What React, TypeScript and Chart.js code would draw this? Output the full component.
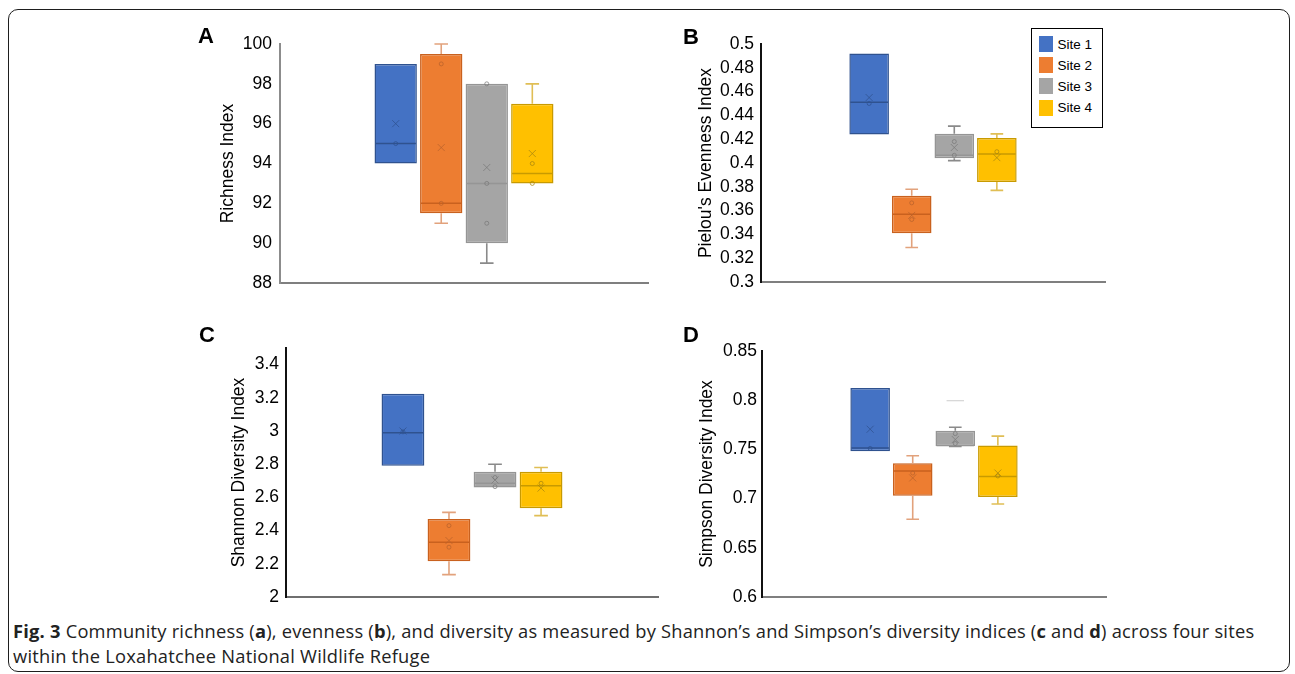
import React, { useEffect, useRef } from 'react';
import { Chart, registerables } from 'chart.js';

Chart.register(...registerables);

// ---------- shared series info ----------
const SITES = ['Site 1', 'Site 2', 'Site 3', 'Site 4'];
const FILL = ['#4472C4', '#ED7D31', '#A5A5A5', '#FFC000'];
const EDGE = ['#2F528F', '#C9611E', '#959595', '#C89A00'];
const WHISKER = ['#6C8CC8', '#E2A27C', '#8A8A8A', '#E0BE55'];
const MARK = ['#2F528F', '#B8612B', '#7A7A7A', '#A8850F'];

// ---------- Panel A: richness ----------
const richQ1 = [94, 91.5, 90, 93];
const richQ3 = [99, 99.5, 98, 97];
const richMedian = [95, 92, 93, 93.5];
const richMean = [96, 94.8, 93.8, 94.5];
const richMin = [94, 91, 89, 93];
const richMax = [99, 100, 98, 98];
const richPoints = [[95], [99, 92], [98, 93, 91], [94, 93]];
const richTicks = [88, 90, 92, 94, 96, 98, 100];

// ---------- Panel B: evenness ----------
const evenQ1 = [0.424, 0.341, 0.404, 0.384];
const evenQ3 = [0.492, 0.3725, 0.4245, 0.421];
const evenMedian = [0.451, 0.357, 0.4065, 0.4075];
const evenMean = [0.455, 0.356, 0.413, 0.4045];
const evenMin = [0.424, 0.329, 0.402, 0.377];
const evenMax = [0.492, 0.378, 0.431, 0.4245];
const evenPoints = [[0.45], [0.3665, 0.3525], [0.418, 0.4065], [0.4095]];
const evenTicks = [0.3, 0.32, 0.34, 0.36, 0.38, 0.4, 0.42, 0.44, 0.46, 0.48, 0.5];

// ---------- Panel C: Shannon ----------
const shanQ1 = [2.79, 2.215, 2.66, 2.535];
const shanQ3 = [3.225, 2.47, 2.755, 2.755];
const shanMedian = [2.99, 2.33, 2.685, 2.67];
const shanMean = [3.0, 2.34, 2.705, 2.656];
const shanMin = [2.79, 2.135, 2.66, 2.49];
const shanMax = [3.225, 2.51, 2.8, 2.78];
const shanPoints = [[2.995], [2.43, 2.3], [2.72, 2.665], [2.685]];
const shanTicks = [2, 2.2, 2.4, 2.6, 2.8, 3, 3.2, 3.4];

// ---------- Panel D: Simpson ----------
const simpQ1 = [0.748, 0.703, 0.7535, 0.7015];
const simpQ3 = [0.8125, 0.736, 0.769, 0.754];
const simpMedian = [0.7515, 0.728, 0.754, 0.7225];
const simpMean = [0.7705, 0.721, 0.76, 0.726];
const simpMin = [0.748, 0.679, 0.753, 0.6945];
const simpMax = [0.8125, 0.7435, 0.7725, 0.7635];
const simpPoints = [[0.751], [0.726], [0.766, 0.756], [0.723]];
const simpOutliers = [null, null, 0.7995, null];
const simpTicks = [0.6, 0.65, 0.7, 0.75, 0.8, 0.85];

const TICK_FONT = { family: '"Liberation Sans", Arial, sans-serif', size: 17.5 };

type Panel = {
  letter: string;
  title: string;
  q1: number[]; q3: number[]; median: number[]; mean: number[];
  min: number[]; max: number[]; points: number[][]; outliers?: (number | null)[];
  ticks: number[]; yMin: number; yMax: number;
  left: number; top: number; width: number; height: number;
  axisW: number; titlePad: number; tickPad: number;
  pad: { top: number; right: number; bottom: number };
  yAxisColor: string; xAxisColor: string;
  letterX: number; letterY: number;
};

const boxExtras = {
  id: 'boxExtras',
  afterDatasetsDraw(chart: any) {
    const ctx = chart.ctx;
    const y = chart.scales.y;
    chart.data.datasets.forEach((ds: any, i: number) => {
      const meta = chart.getDatasetMeta(i);
      const bar = meta.data[0];
      if (!bar) return;
      const cx = bar.x;
      const w = bar.width;
      const st = ds.stats;
      const q1 = ds.data[0][0];
      const q3 = ds.data[0][1];
      const cap = w * 0.32;
      ctx.save();
      // whiskers
      ctx.strokeStyle = WHISKER[i];
      ctx.lineWidth = 1.6;
      const whisk = (from: number, to: number) => {
        const a = y.getPixelForValue(from);
        const b = y.getPixelForValue(to);
        ctx.beginPath();
        ctx.moveTo(cx, a);
        ctx.lineTo(cx, b);
        ctx.moveTo(cx - cap / 2, b);
        ctx.lineTo(cx + cap / 2, b);
        ctx.stroke();
      };
      if (st.max > q3) whisk(q3, st.max);
      if (st.min < q1) whisk(q1, st.min);
      // median
      ctx.strokeStyle = EDGE[i];
      ctx.lineWidth = 1.5;
      const my = y.getPixelForValue(st.median);
      ctx.beginPath();
      ctx.moveTo(cx - w / 2 + 1, my);
      ctx.lineTo(cx + w / 2 - 1, my);
      ctx.stroke();
      // outliers (faint marks)
      if (st.outlier != null) {
        const oy = y.getPixelForValue(st.outlier);
        ctx.strokeStyle = '#D4D4D4';
        ctx.lineWidth = 1.2;
        ctx.beginPath();
        ctx.moveTo(cx - w * 0.22, oy);
        ctx.lineTo(cx + w * 0.22, oy);
        ctx.stroke();
      }
      // points
      ctx.strokeStyle = MARK[i];
      ctx.globalAlpha = 0.75;
      ctx.lineWidth = 1;
      st.points.forEach((p: number) => {
        const py = y.getPixelForValue(p);
        ctx.beginPath();
        ctx.arc(cx, py, 2, 0, Math.PI * 2);
        ctx.stroke();
      });
      // mean
      const ey = y.getPixelForValue(st.mean);
      const s = 3.5;
      ctx.beginPath();
      ctx.moveTo(cx - s, ey - s);
      ctx.lineTo(cx + s, ey + s);
      ctx.moveTo(cx - s, ey + s);
      ctx.lineTo(cx + s, ey - s);
      ctx.stroke();
      ctx.restore();
    });
  },
};

const fmt = (v: any) => String(+Number(v).toFixed(4));

const PANELS: Panel[] = [
  {
    letter: 'A', title: 'Richness Index',
    q1: richQ1, q3: richQ3, median: richMedian, mean: richMean, min: richMin, max: richMax, points: richPoints,
    ticks: richTicks, yMin: 88, yMax: 100,
    left: 190, top: 20, width: 470, height: 285,
    axisW: 90, titlePad: 28, tickPad: 8, pad: { top: 24, right: 12, bottom: 22 },
    yAxisColor: '#8C8C8C', xAxisColor: '#7F7F7F', letterX: 198, letterY: 25,
  },
  {
    letter: 'B', title: "Pielou's Evenness Index",
    q1: evenQ1, q3: evenQ3, median: evenMedian, mean: evenMean, min: evenMin, max: evenMax, points: evenPoints,
    ticks: evenTicks, yMin: 0.3, yMax: 0.5,
    left: 680, top: 20, width: 450, height: 285,
    axisW: 81, titlePad: 15.5, tickPad: 7, pad: { top: 24, right: 25, bottom: 23 },
    yAxisColor: '#111111', xAxisColor: '#7F7F7F', letterX: 683, letterY: 26,
  },
  {
    letter: 'C', title: 'Shannon Diversity Index',
    q1: shanQ1, q3: shanQ3, median: shanMedian, mean: shanMean, min: shanMin, max: shanMax, points: shanPoints,
    ticks: shanTicks, yMin: 2, yMax: 3.5,
    left: 190, top: 320, width: 480, height: 297,
    axisW: 96, titlePad: 38.8, tickPad: 7, pad: { top: 28, right: 12, bottom: 20 },
    yAxisColor: '#111111', xAxisColor: '#6F6F6F', letterX: 199, letterY: 324,
  },
  {
    letter: 'D', title: 'Simpson Diversity Index',
    q1: simpQ1, q3: simpQ3, median: simpMedian, mean: simpMean, min: simpMin, max: simpMax, points: simpPoints,
    outliers: simpOutliers,
    ticks: simpTicks, yMin: 0.6, yMax: 0.85,
    left: 680, top: 320, width: 450, height: 297,
    axisW: 82, titlePad: 16.5, tickPad: 5, pad: { top: 31, right: 24, bottom: 20 },
    yAxisColor: '#111111', xAxisColor: '#7F7F7F', letterX: 683, letterY: 324,
  },
];

function BoxPanel({ p }: { p: Panel }) {
  const ref = useRef<HTMLCanvasElement>(null);
  useEffect(() => {
    const datasets = SITES.map((s, i) => ({
      label: s,
      data: [[p.q1[i], p.q3[i]]],
      backgroundColor: FILL[i],
      borderColor: EDGE[i],
      borderWidth: 1.5,
      borderSkipped: false,
      categoryPercentage: 0.495,
      barPercentage: 0.93,
      stats: {
        median: p.median[i], mean: p.mean[i], min: p.min[i], max: p.max[i],
        points: p.points[i], outlier: p.outliers ? p.outliers[i] : null,
      },
    }));
    const chart = new Chart(ref.current as HTMLCanvasElement, {
      type: 'bar',
      data: { labels: [''], datasets: datasets as any },
      options: {
        responsive: false,
        animation: false,
        layout: { padding: { left: 0, top: p.pad.top, right: p.pad.right, bottom: p.pad.bottom } },
        plugins: { legend: { display: false }, tooltip: { enabled: false } },
        scales: {
          x: {
            type: 'category',
            offset: true,
            grid: { display: false, drawTicks: false },
            ticks: { display: false },
            border: { display: true, color: p.xAxisColor, width: 2 },
          },
          y: {
            type: 'linear',
            min: p.yMin,
            max: p.yMax,
            afterBuildTicks: (s: any) => { s.ticks = p.ticks.map((v) => ({ value: v })); },
            afterFit: (s: any) => { s.width = p.axisW; },
            grid: { display: false, drawTicks: false },
            border: { display: true, color: p.yAxisColor, width: 2 },
            ticks: { padding: p.tickPad, color: '#000', font: TICK_FONT, callback: fmt, autoSkip: false },
            title: {
              display: true, text: p.title, color: '#000', font: TICK_FONT,
              padding: { top: p.titlePad, bottom: 0 },
            },
          },
        } as any,
      },
      plugins: [boxExtras],
    });
    return () => chart.destroy();
  }, []);
  return (
    <canvas
      ref={ref}
      width={p.width}
      height={p.height}
      style={{ position: 'absolute', left: p.left, top: p.top, width: p.width, height: p.height }}
    />
  );
}

export default function App() {
  return (
    <div style={{ position: 'fixed', left: 0, top: 0, width: 1295, height: 674, overflow: 'hidden', background: '#fff' }}>
      <div style={{
        position: 'absolute', left: 8, top: 9, width: 1282, height: 663, boxSizing: 'border-box',
        border: '1.6px solid #1E1E1E', borderRadius: 10,
      }} />
      {PANELS.map((p) => <BoxPanel key={p.letter} p={p} />)}
      {PANELS.map((p) => (
        <div key={'l' + p.letter} style={{
          position: 'absolute', left: p.letterX, top: p.letterY, fontFamily: '"Liberation Sans", Arial, sans-serif',
          fontWeight: 'bold', fontSize: 22, lineHeight: '22px', color: '#000',
        }}>{p.letter}</div>
      ))}
      <div style={{
        position: 'absolute', left: 1031, top: 28, width: 72, height: 100, boxSizing: 'border-box',
        border: '1.5px solid #000', background: '#fff',
      }}>
        {SITES.map((s, i) => (
          <div key={s} style={{
            position: 'absolute', left: 7, top: 7 + i * 21.2, height: 16, display: 'flex', alignItems: 'center',
            fontFamily: '"Liberation Sans", Arial, sans-serif', fontSize: 13.5, color: '#000', whiteSpace: 'nowrap',
          }}>
            <span style={{ display: 'inline-block', width: 13.5, height: 16, background: FILL[i], marginRight: 5 }} />
            <span>{s}</span>
          </div>
        ))}
      </div>
      <div style={{
        position: 'absolute', left: 13, top: 618, fontFamily: '"Open Sans", sans-serif', fontSize: 18.3,
        letterSpacing: '0.22px', lineHeight: '25px', color: '#222', whiteSpace: 'nowrap',
      }}>
        <b>Fig. 3</b> Community richness (<b>a</b>), evenness (<b>b</b>), and diversity as measured by Shannon’s and Simpson’s diversity indices (<b>c</b> and <b>d</b>) across four sites
        <br />
        within the Loxahatchee National Wildlife Refuge
      </div>
    </div>
  );
}
